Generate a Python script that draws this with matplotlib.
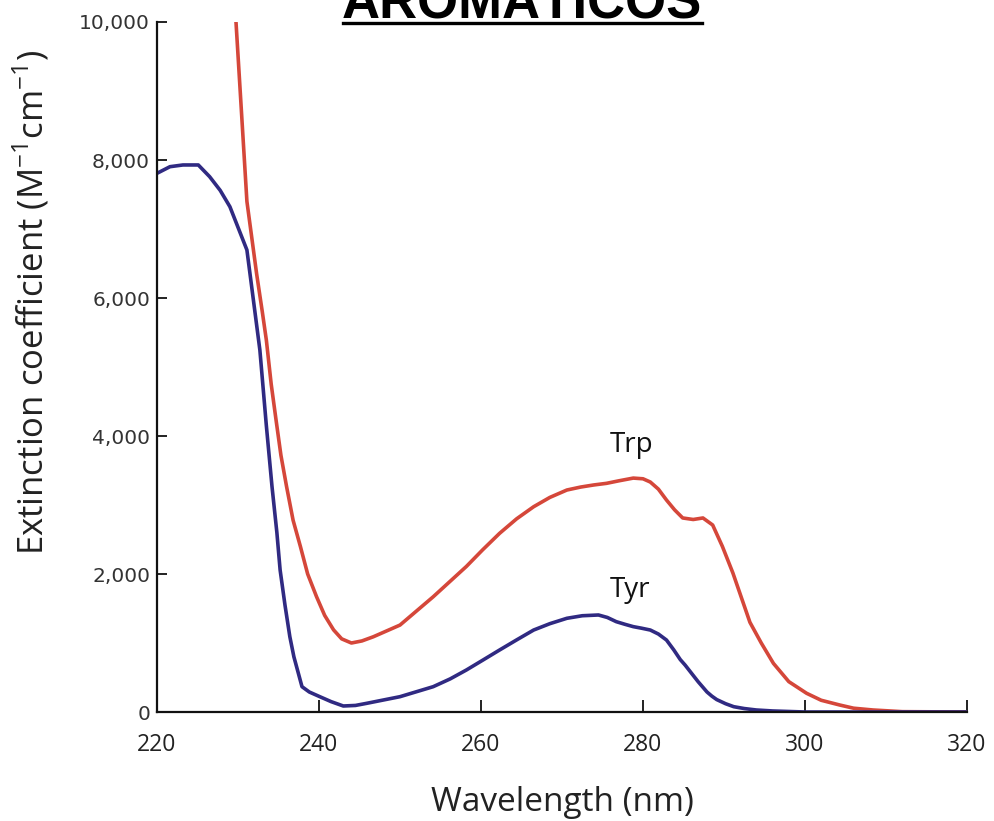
import matplotlib
matplotlib.use("Agg")
import matplotlib.pyplot as plt
from matplotlib.lines import Line2D

# Data
trp_wl = [229.7, 231.1, 232.3, 233.0, 233.5, 234.1, 234.7, 235.3, 236.0, 236.8,
          237.7, 238.6, 239.7, 240.7, 241.8, 242.8, 244.0, 245.3, 246.7, 250.0,
          254.1, 258.2, 260.2, 262.3, 264.4, 266.5, 268.5, 270.6, 272.3, 273.9,
          275.5, 277.0, 278.8, 280.0, 280.9, 281.9, 282.9, 283.9, 284.9, 286.2,
          287.4, 288.6, 289.8, 291.1, 292.2, 293.2, 294.6, 296.1, 298.0, 300.2,
          302.0, 304.3, 306.0, 308.4, 312.0, 320.0]
trp_eps = [10100, 7400, 6350, 5800, 5390, 4750, 4230, 3720, 3265, 2780,
           2400, 2000, 1670, 1400, 1190, 1060, 1000, 1030, 1090, 1260,
           1670, 2110, 2350, 2590, 2800, 2975, 3110, 3217, 3260, 3290,
           3314, 3350, 3390, 3380, 3333, 3230, 3072, 2930, 2812, 2790,
           2812, 2710, 2400, 2014, 1640, 1300, 1000, 705, 440, 271,
           170, 101, 55, 29, 5, 0]

tyr_wl = [220.0, 221.6, 223.2, 225.1, 226.5, 227.8, 229.0, 231.1, 231.9, 232.7,
          233.5, 234.2, 234.8, 235.2, 235.8, 236.4, 236.9, 237.9, 238.8, 240.1,
          241.5, 243.0, 244.5, 245.9, 250.0, 254.1, 256.2, 258.2, 260.2, 262.3,
          264.4, 266.5, 268.5, 270.6, 272.5, 274.5, 275.6, 276.7, 277.8, 278.8,
          279.8, 280.9, 281.9, 282.9, 283.8, 284.6, 285.2, 286.8, 287.9, 288.5,
          289.1, 290.2, 291.2, 292.5, 294.0, 296.0, 300.0, 320.0]
tyr_eps = [7807, 7903, 7928, 7928, 7758, 7560, 7323, 6696, 5971, 5246,
           4150, 3265, 2600, 2058, 1550, 1091, 800, 367, 290, 222,
           150, 87, 95, 126, 222, 367, 480, 609, 750, 899,
           1045, 1188, 1280, 1358, 1395, 1406, 1370, 1309, 1270, 1237,
           1215, 1188, 1130, 1043, 900, 760, 680, 440, 290, 230,
           180, 120, 77, 50, 29, 15, 0, 0]

x_ticks = [220, 240, 260, 280, 300, 320]
y_ticks = [0, 2000, 4000, 6000, 8000, 10000]
y_ticklabels = ["0", "2,000", "4,000", "6,000", "8,000", "10,000"]

RED = "#d5473a"
BLUE = "#302a82"
LABEL_FONT = "Open Sans"

fig = plt.figure(figsize=(9.94, 8.21), dpi=100)
ax = fig.add_axes([157/994, 1-712/821, (967-157)/994, (712-22)/821])

ax.plot(trp_wl, trp_eps, color=RED, lw=2.6, solid_joinstyle="round")
ax.plot(tyr_wl, tyr_eps, color=BLUE, lw=2.6, solid_joinstyle="round")

ax.set_xlim(220, 320)
ax.set_ylim(0, 10000)
for s in ["top", "right"]:
    ax.spines[s].set_visible(False)
for s in ["left", "bottom"]:
    ax.spines[s].set_linewidth(1.6)
    ax.spines[s].set_color("#111111")

ax.set_xticks(x_ticks)
ax.set_xticklabels([str(t) for t in x_ticks])
ax.set_yticks(y_ticks)
ax.set_yticklabels(y_ticklabels)
ax.tick_params(axis="x", direction="in", length=9, width=1.3, pad=15,
               labelsize=16.5, colors="#111111", labelcolor="#222222")
ax.tick_params(axis="y", direction="in", length=7, width=1.3, pad=5,
               labelsize=14.5, colors="#111111", labelcolor="#333333")
for lab in ax.get_xticklabels():
    lab.set_fontfamily(LABEL_FONT)
for lab in ax.get_yticklabels():
    lab.set_fontfamily("DejaVu Sans")

ax.set_xlabel("Wavelength (nm)", fontsize=24, family=LABEL_FONT, color="#222222",
              labelpad=21)
ax.set_ylabel("Extinction coefficient (M$^{\\mathregular{-1}}$cm$^{\\mathregular{-1}}$)",
              fontsize=25, family=LABEL_FONT, color="#222222")
ax.yaxis.set_label_coords((52 - 157) / 810, (712 - 302) / 690)

ax.text(278.6, 3870, "Trp", fontsize=20, family=LABEL_FONT, color="#111111",
        ha="center", va="center")
ax.text(278.4, 1768, "Tyr", fontsize=20, family=LABEL_FONT, color="#111111",
        ha="center", va="center")

# Title (cut off at the top edge, as in the reference)
fig.text(522/994, 1-18/821, "AROMÁTICOS", fontsize=38, fontweight="bold",
         family="Liberation Sans", ha="center", va="baseline", color="black")
fig.add_artist(Line2D([343/994, 702/994], [1-23/821, 1-23/821],
                      transform=fig.transFigure, color="black", lw=2.4))

fig.savefig("out.png", dpi=100)
